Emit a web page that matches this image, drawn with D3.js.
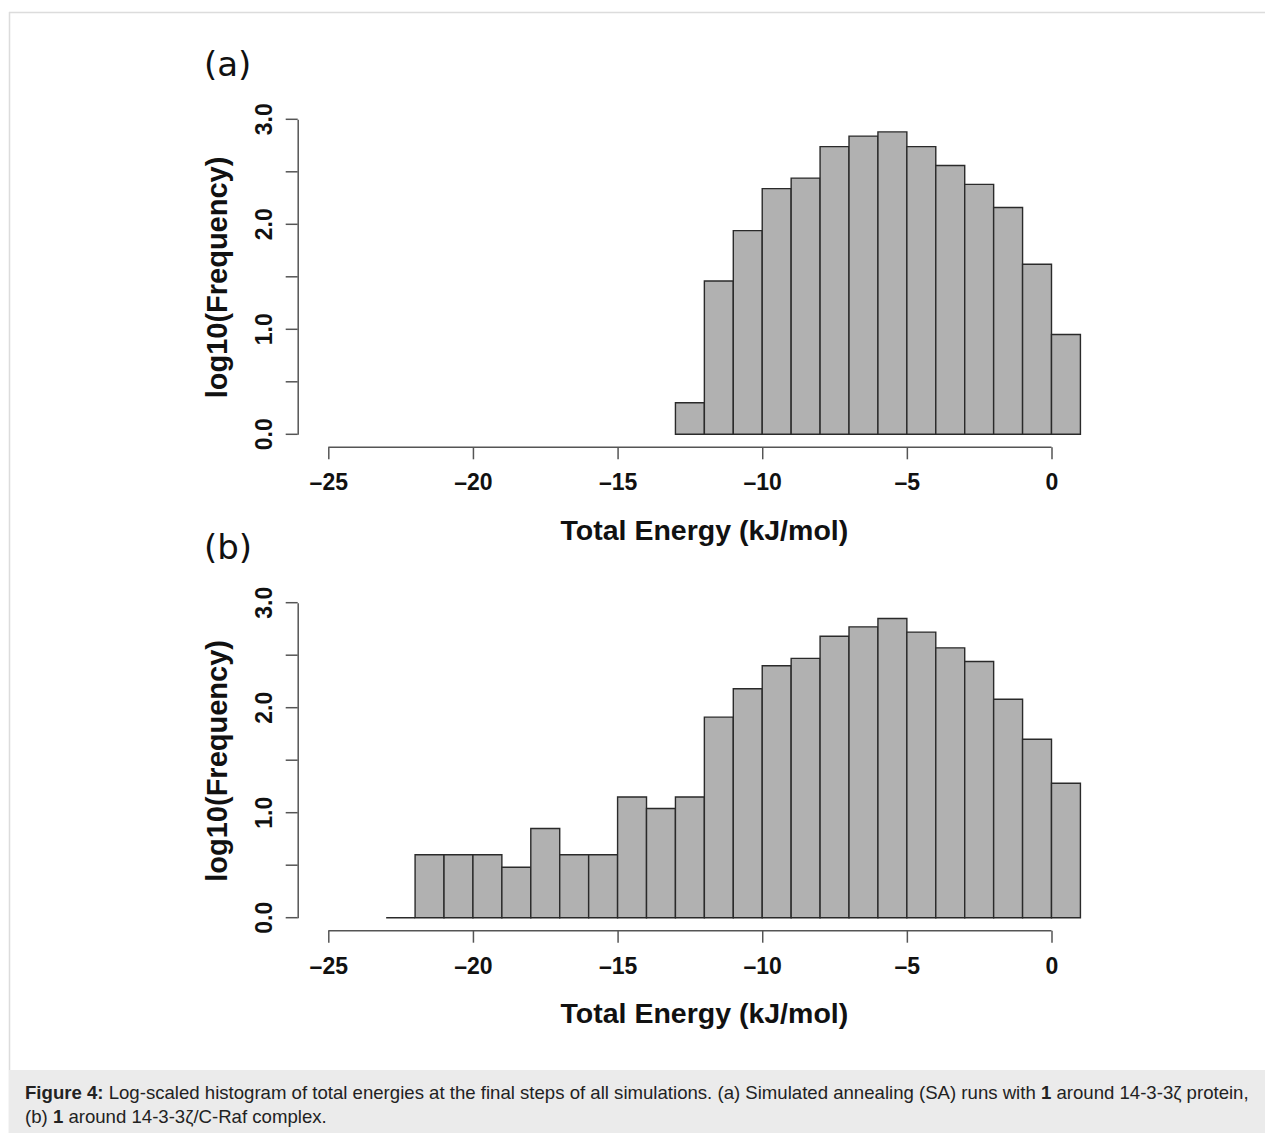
<!DOCTYPE html>
<html lang="en">
<head>
<meta charset="UTF-8">
<script src="https://d3js.org/d3.v7.min.js"></script>
<title>Figure 4</title>
<style>
  body { margin: 0; background: #fff; }
  svg text { font-family: "Liberation Sans", Arial, sans-serif; }
</style>
</head>
<body>
<svg id="fig" width="1265" height="1133"></svg>
<script>
// lower bin edges (kJ/mol), bin width 1
var binStartA = [-13, -12, -11, -10, -9, -8, -7, -6, -5, -4, -3, -2, -1, 0];
var logFreqA  = [0.30, 1.46, 1.94, 2.34, 2.44, 2.74, 2.84, 2.88, 2.74, 2.56, 2.38, 2.16, 1.62, 0.95];

var binStartB = [-23, -22, -21, -20, -19, -18, -17, -16, -15, -14, -13, -12,
                 -11, -10, -9, -8, -7, -6, -5, -4, -3, -2, -1, 0];
var logFreqB  = [0.00, 0.60, 0.60, 0.60, 0.48, 0.85, 0.60, 0.60, 1.15, 1.04, 1.15, 1.91,
                 2.18, 2.40, 2.47, 2.68, 2.77, 2.85, 2.72, 2.57, 2.44, 2.08, 1.70, 1.28];

var xTicks = [-25, -20, -15, -10, -5, 0];
var yTicks = [0, 0.5, 1, 1.5, 2, 2.5, 3];
var yLabelTicks = [0, 1, 2, 3];
var binWidth = 1;

var svg = d3.select('#fig');

// frame
svg.append('line').attr('x1', 9).attr('x2', 1265).attr('y1', 12.5).attr('y2', 12.5)
    .attr('stroke', '#dcdcdc').attr('stroke-width', 1.5);
svg.append('line').attr('x1', 9.5).attr('x2', 9.5).attr('y1', 12).attr('y2', 1133)
    .attr('stroke', '#dcdcdc').attr('stroke-width', 1.5);

var x = d3.scaleLinear().domain([-25, 0]).range([328.3, 1051.5]);

function panel(offsetY, label, starts, vals) {
    var g = svg.append('g').attr('transform', 'translate(0,' + offsetY + ')');
    var y = d3.scaleLinear().domain([0, 3]).range([434.3, 119.3]);

    // bars
    g.selectAll('path.bar')
        .data(starts)
        .enter().append('path')
        .attr('class', 'bar')
        .attr('d', function(d, i) {
            var x0 = x(d), x1 = x(d + binWidth);
            return 'M' + x0 + ',' + y(0) + 'V' + y(vals[i]) + 'H' + x1 + 'V' + y(0) + 'Z';
        })
        .attr('fill', '#b1b1b1')
        .attr('stroke', '#2a2a2a')
        .attr('stroke-width', 1.4);

    // y axis
    var yAxis = d3.axisLeft(y)
        .tickValues(yTicks)
        .tickSize(12)
        .tickSizeOuter(0)
        .tickFormat(function(d) { return yLabelTicks.indexOf(d) >= 0 ? d.toFixed(1) : ''; });
    var ya = g.append('g').attr('transform', 'translate(297.7,0)').call(yAxis);
    ya.selectAll('path, line').attr('stroke', '#555').attr('stroke-width', 1.5);
    ya.selectAll('text')
        .attr('x', null).attr('dy', null)
        .attr('transform', function(d) { return 'translate(-26,' + y(d) + ') rotate(-90)'; })
        .attr('y', 0)
        .attr('text-anchor', 'middle')
        .style('font-size', '23px').style('font-weight', 'bold').attr('fill', '#111');
    ya.selectAll('.tick').attr('transform', null);
    ya.selectAll('.tick line').attr('transform', function(d) { return 'translate(0,' + y(d) + ')'; });

    // x axis
    var xAxis = d3.axisBottom(x)
        .tickValues(xTicks)
        .tickSize(12)
        .tickSizeOuter(0)
        .tickFormat(function(d) { return d < 0 ? '\u2013' + Math.abs(d) : d; });
    var xa = g.append('g').attr('transform', 'translate(0,447.3)').call(xAxis);
    xa.select('.domain').attr('d', 'M' + x(-25) + ',0H' + x(0));
    xa.selectAll('path, line').attr('stroke', '#555').attr('stroke-width', 1.5);
    xa.selectAll('text')
        .attr('y', 43).attr('dy', null)
        .style('font-size', '23px').style('font-weight', 'bold').attr('fill', '#111');

    // axis titles
    g.append('text')
        .attr('transform', 'translate(227,277.5) rotate(-90)')
        .attr('text-anchor', 'middle')
        .style('font-size', '29px').style('font-weight', 'bold').attr('fill', '#111')
        .text('log10(Frequency)');
    g.append('text')
        .attr('x', x(-12)).attr('y', 540)
        .attr('text-anchor', 'middle')
        .style('font-size', '28.5px').style('font-weight', 'bold').attr('fill', '#111')
        .text('Total Energy (kJ/mol)');

    // panel letter
    g.append('text')
        .attr('x', 204).attr('y', 76)
        .style('font-family', '"DejaVu Sans", Verdana, sans-serif')
        .style('font-size', '34px').attr('fill', '#111')
        .text(label);
}

panel(0, '(a)', binStartA, logFreqA);
panel(483.4, '(b)', binStartB, logFreqB);

// caption
svg.append('rect').attr('x', 9).attr('y', 1070).attr('width', 1256).attr('height', 63)
    .attr('fill', '#ebebeb');
var cap = svg.append('g').style('font-size', '18.6px').attr('fill', '#222');
var l1 = cap.append('text').attr('x', 25).attr('y', 1099);
l1.append('tspan').style('font-weight', 'bold').text('Figure 4:');
l1.append('tspan').text(' Log-scaled histogram of total energies at the final steps of all simulations. (a) Simulated annealing (SA) runs with ');
l1.append('tspan').style('font-weight', 'bold').text('1');
l1.append('tspan').text(' around 14-3-3\u03B6 protein,');
var l2 = cap.append('text').attr('x', 25).attr('y', 1123);
l2.append('tspan').text('(b) ');
l2.append('tspan').style('font-weight', 'bold').text('1');
l2.append('tspan').text(' around 14-3-3\u03B6/C-Raf complex.');
</script>
</body>
</html>
